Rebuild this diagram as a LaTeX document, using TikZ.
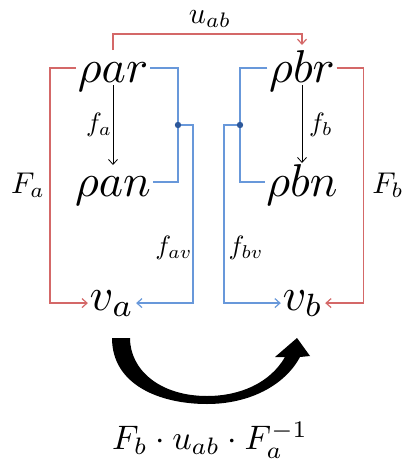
\documentclass[tikz,border=0pt]{standalone}
\usetikzlibrary{arrows.meta}
\definecolor{redl}{RGB}{212,104,104}
\definecolor{bluel}{RGB}{104,152,218}
\definecolor{dotc}{RGB}{45,88,155}
\tikzset{
  big/.style={inner sep=0.2pt,scale=4.6},
  lab/.style={inner sep=0pt,scale=3.0},
  small/.style={inner sep=0pt,scale=2.65},
  rline/.style={draw=redl,line width=1.2pt},
  bline/.style={draw=bluel,line width=1.2pt},
  tip/.style={-{Straight Barb[length=5pt,width=9pt]}},
}
\begin{document}
\begin{tikzpicture}[x=1pt,y=-1pt]
\useasboundingbox (0,0) rectangle (403,463);
\node[big,anchor=base] (ar) at (113,82) {$\rho ar$};
\node[big,anchor=base] (an) at (113,196) {$\rho an$};
\node[big,anchor=base] (br) at (302,82) {$\rho br$};
\node[big,anchor=base] (bn) at (302,196) {$\rho bn$};
\node[big,anchor=base] (va) at (112,310) {$v_a$};
\node[big,anchor=base] (vb) at (303,310) {$v_b$};
\coordinate (da) at (178,125);
\coordinate (db) at (240,125);
% labels
\node[lab] (Fa) at (28,185) {$F_a$};
\node[lab] (Fb) at (388,185) {$F_b$};
\node[lab] (uab) at (210,19) {$u_{ab}$};
\node[small] (fa) at (99,125) {$f_a$};
\node[small] (fb) at (321,125) {$f_b$};
\node[small] (fav) at (174,248) {$f_{av}$};
\node[small] (fbv) at (246,248) {$f_{bv}$};
\node[inner sep=0pt,scale=3.4] (form) at (210,440) {$F_b\cdot u_{ab}\cdot F_a^{-1}$};
% red
\draw[rline,tip] ([yshift=4pt]ar.mid west) -- ++(-26,0) |- ([yshift=-3pt]va.mid west);
\draw[rline,tip] ([yshift=4pt]br.mid east) -- ++(27,0) |- ([yshift=-3pt]vb.mid east);
\draw[rline,tip] ([yshift=32pt]ar.base) -- ++(0,-16) -| ([yshift=37pt]br.base);
% blue
\draw[bline] ([yshift=4pt]ar.mid east) -| (da) |- ([yshift=4pt]an.mid east);
\draw[bline,tip] (da) -- ++(15,0) |- ([yshift=-3pt]va.mid east);
\draw[bline] ([yshift=4pt]br.mid west) -| (db) |- ([yshift=4pt]bn.mid west);
\draw[bline,tip] (db) -- ++(-16,0) |- ([yshift=-3pt]vb.mid west);
\fill[dotc] (da) circle (3.2);
\fill[dotc] (db) circle (3.2);
% black
\draw[line width=0.8pt,tip] ([yshift=-3pt]ar.base) -- ([yshift=31pt]an.base);
\draw[line width=0.8pt,tip] ([yshift=-3pt]br.base) -- ([yshift=33pt]bn.base);
% big curved arrow
\fill (112,338) .. controls (112,385) and (160,404) .. (207,404)
  .. controls (250,404) and (285,385) .. (300,357) -- (310,356) -- (297,338) -- (275,357) -- (285,357)
  .. controls (270,383) and (240,396) .. (207,396)
  .. controls (160,396) and (130,370) .. (130,338) -- cycle;
\end{tikzpicture}
\end{document}
